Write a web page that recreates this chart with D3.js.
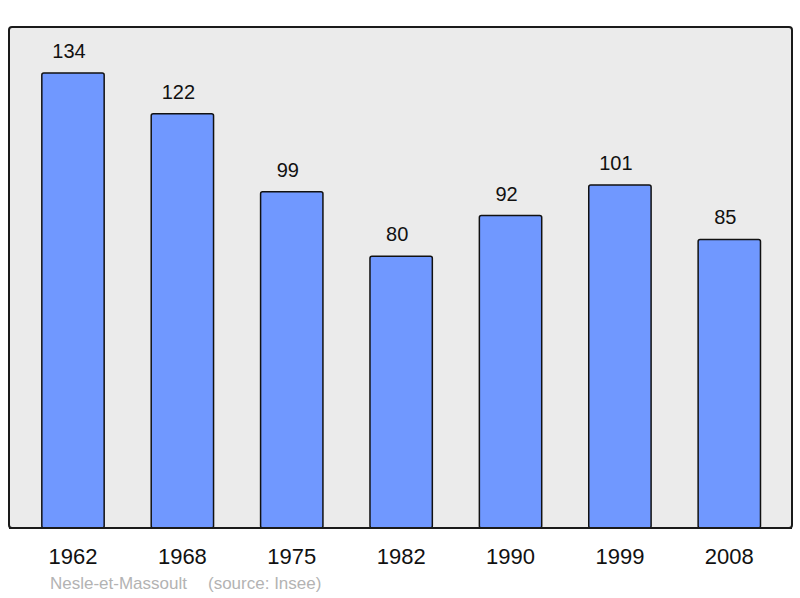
<!DOCTYPE html>
<html>
<head>
<meta charset="utf-8">
<script src="https://cdn.jsdelivr.net/npm/d3@7"></script>
<style>
  body { margin: 0; background: #fff; }
  svg { display: block; font-family: "Liberation Sans", Arial, sans-serif; }
</style>
</head>
<body>
<div id="chart"></div>
<script>
const years = ["1962", "1968", "1975", "1982", "1990", "1999", "2008"];
const population = [134, 122, 99, 80, 92, 101, 85];
const commune = "Nesle-et-Massoult";
const source = "(source: Insee)";

const width = 800, height = 598;
const frame = { x0: 9, y0: 27, x1: 792, y1: 528 };

const svg = d3.select("#chart").append("svg")
  .attr("width", width)
  .attr("height", height);

// plot background
svg.append("rect")
  .attr("x", frame.x0)
  .attr("y", frame.y0)
  .attr("width", frame.x1 - frame.x0)
  .attr("height", frame.y1 - frame.y0)
  .attr("rx", 3)
  .attr("fill", "#ebebeb")
  .attr("stroke", "#1a1a1a")
  .attr("stroke-width", 2);

const x = d3.scaleBand()
  .domain(years)
  .range([18.3, 784])
  .paddingInner(0.43)
  .paddingOuter(0.215);

const y = d3.scaleLinear()
  .domain([0, d3.max(population)])
  .range([frame.y1, 73]);

const data = years.map((yr, i) => ({ year: yr, value: population[i] }));

svg.selectAll("rect.bar")
  .data(data)
  .join("rect")
  .attr("class", "bar")
  .attr("x", (d) => x(d.year))
  .attr("y", (d) => y(d.value))
  .attr("width", x.bandwidth())
  .attr("height", (d) => frame.y1 - y(d.value))
  .attr("rx", 2)
  .attr("fill", "#7098ff")
  .attr("stroke", "#111")
  .attr("stroke-width", 1.5);

// value labels sit a little left of the bar centre in the original
svg.selectAll("text.val")
  .data(data)
  .join("text")
  .attr("class", "val")
  .attr("x", (d) => x(d.year) + x.bandwidth() / 2 - 4)
  .attr("y", (d) => y(d.value) - 15)
  .attr("text-anchor", "middle")
  .style("font-size", "20px")
  .style("fill", "#111")
  .text((d) => d.value);

// redraw bottom border over bars
svg.append("line")
  .attr("x1", frame.x0).attr("x2", frame.x1)
  .attr("y1", frame.y1).attr("y2", frame.y1)
  .attr("stroke", "#1a1a1a")
  .attr("stroke-width", 2);

const xAxis = svg.append("g")
  .attr("transform", `translate(0,${frame.y1})`)
  .call(d3.axisBottom(x).tickSize(0).tickPadding(0));
xAxis.select(".domain").remove();
xAxis.selectAll("text")
  .attr("dy", null)
  .attr("y", 36)
  .style("font-size", "22px")
  .style("font-family", "\"Liberation Sans\", Arial, sans-serif")
  .style("fill", "#111");

svg.append("text")
  .attr("x", 50)
  .attr("y", 589)
  .style("font-size", "17px")
  .style("fill", "#b3b3b3")
  .text(commune);

svg.append("text")
  .attr("x", 208)
  .attr("y", 589)
  .style("font-size", "17px")
  .style("fill", "#b3b3b3")
  .text(source);
</script>
</body>
</html>
